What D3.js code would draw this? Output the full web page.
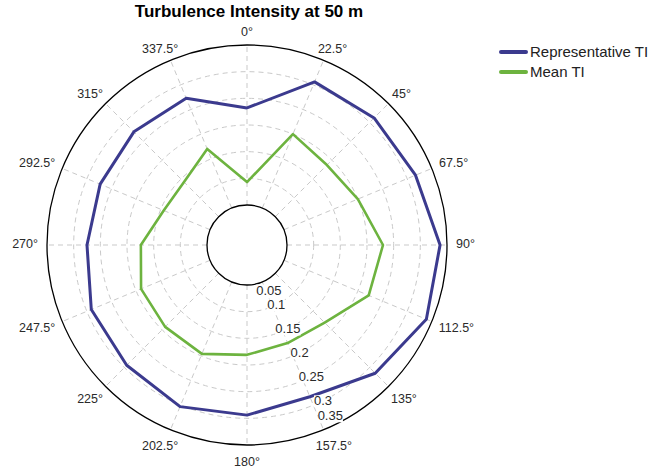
<!DOCTYPE html>
<html>
<head>
<title>Turbulence Intensity at 50 m</title>
<script src="https://d3js.org/d3.v7.min.js"></script>
<style>
  * { margin:0; padding:0; }
  body { background:#fff; font-family:"Liberation Sans", Arial, sans-serif; }
  #chart svg { display:block; }
  .grid { fill:none; stroke:#c9c9c9; stroke-width:1; stroke-dasharray:5,4; }
  .ring { fill:none; stroke:#000; stroke-width:1.3; }
  .dirlab { font-size:12.5px; fill:#2a2a2a; }
  .radlab { font-size:13px; fill:#2a2a2a; }
</style>
</head>
<body>
<div id="chart"></div>
<script>
// wind directions (compass degrees)
const directions = [0, 22.5, 45, 67.5, 90, 112.5, 135, 157.5, 180, 202.5, 225, 247.5, 270, 292.5, 315, 337.5];
// turbulence intensity per sector
const representativeTI = [0.232, 0.306, 0.312, 0.317, 0.337, 0.339, 0.315, 0.283, 0.294, 0.303, 0.294, 0.291, 0.275, 0.273, 0.275, 0.273];
const meanTI = [0.093, 0.200, 0.187, 0.200, 0.230, 0.222, 0.181, 0.174, 0.181, 0.196, 0.192, 0.190, 0.174, 0.144, 0.142, 0.170];
const radialTicks = [0.05, 0.1, 0.15, 0.2, 0.25, 0.3, 0.35];
const seriesNames = ["Representative TI", "Mean TI"];
const seriesColors = ["#3b3a8e", "#6db33f"];

const width = 664, height = 470;
const cx = 247, cy = 245;
const r0 = 40, R = 200;

const r = d3.scaleLinear().domain([0.05, 0.35]).range([r0, R]);
const rad = d => d * Math.PI / 180;

const svg = d3.select("#chart").append("svg")
  .attr("width", width).attr("height", height);

svg.append("text")
  .attr("x", 249).attr("y", 17)
  .attr("text-anchor", "middle")
  .style("font-size", "17px").style("font-weight", "bold")
  .text("Turbulence Intensity at 50 m");

const g = svg.append("g").attr("transform", `translate(${cx},${cy})`);

// dashed rings
g.selectAll("circle.grid")
  .data(radialTicks.filter(v => v > 0.05 && v < 0.35))
  .enter().append("circle")
  .attr("class", "grid")
  .attr("r", d => r(d));

// dashed spokes
g.selectAll("line.grid")
  .data(directions)
  .enter().append("line")
  .attr("class", "grid")
  .attr("x1", d => r0 * Math.sin(rad(d)))
  .attr("y1", d => -r0 * Math.cos(rad(d)))
  .attr("x2", d => R * Math.sin(rad(d)))
  .attr("y2", d => -R * Math.cos(rad(d)));

g.append("circle").attr("class", "ring").attr("r", r(0.05));
g.append("circle").attr("class", "ring").attr("r", r(0.35));

// series lines
const line = d3.lineRadial()
  .angle(d => rad(d[0]))
  .radius(d => r(d[1]))
  .curve(d3.curveLinearClosed);

[representativeTI, meanTI].forEach((vals, i) => {
  g.append("path")
    .datum(directions.map((d, j) => [d, vals[j]]))
    .attr("d", line)
    .attr("fill", "none")
    .attr("stroke", seriesColors[i])
    .attr("stroke-width", i === 0 ? 3 : 2.6)
    .attr("stroke-linejoin", "round");
});

// direction labels, centred just outside the outer ring
g.selectAll("text.dirlab")
  .data(directions)
  .enter().append("text")
  .attr("class", "dirlab")
  .attr("text-anchor", "middle")
  .attr("dy", "0.35em")
  .text(d => d + "°")
  .each(function(d) {
    const w = this.getComputedTextLength();
    const s = Math.sin(rad(d)), c = Math.cos(rad(d));
    d3.select(this)
      .attr("x", s * (R + 9 + w / 2))
      .attr("y", -(R + 12) * c - 1 + (c < 0 ? -c * 6 : 0));
  });

// radial labels with white backing
const la = rad(154);
const radLab = g.selectAll("g.radlab")
  .data(radialTicks)
  .enter().append("g")
  .attr("class", "radlab")
  .attr("transform", d => {
    const rr = Math.max(r0 + 10, Math.min(R - 10, r(d)));
    return `translate(${rr * Math.sin(la)},${-rr * Math.cos(la)})`;
  });
radLab.append("text")
  .attr("text-anchor", "middle")
  .attr("dy", "0.35em")
  .text(d => d);
radLab.each(function() {
  const t = d3.select(this).select("text");
  const b = t.node().getBBox();
  d3.select(this).insert("rect", "text")
    .attr("x", b.x).attr("y", b.y + 2)
    .attr("width", b.width).attr("height", b.height - 3)
    .attr("fill", "#fff");
});

// legend
const legend = svg.append("g").attr("transform", "translate(500,52)");
seriesNames.forEach((name, i) => {
  const row = legend.append("g").attr("transform", `translate(0,${i * 20})`);
  row.append("line")
    .attr("x1", 1).attr("x2", 26)
    .attr("stroke", seriesColors[i]).attr("stroke-width", 4)
    .attr("stroke-linecap", "round");
  row.append("text")
    .attr("x", 30).attr("dy", "0.35em")
    .style("font-size", "15px").style("fill", "#222")
    .text(name);
});
</script>
</body>
</html>
